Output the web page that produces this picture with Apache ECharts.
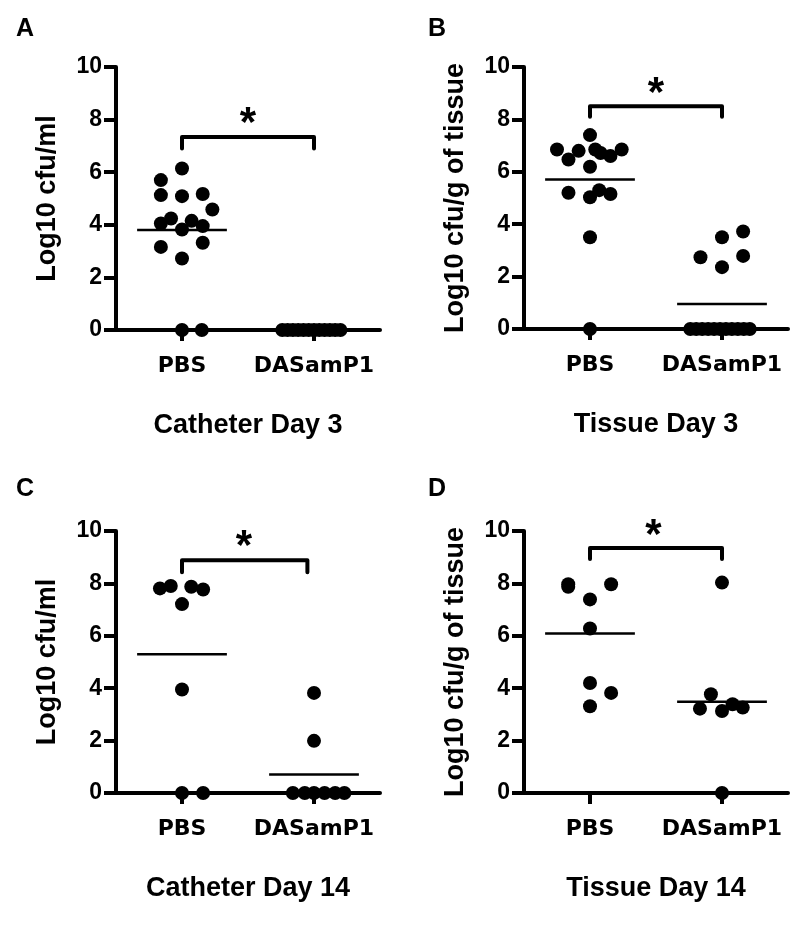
<!DOCTYPE html>
<html>
<head>
<meta charset="utf-8">
<script src="https://cdn.jsdelivr.net/npm/echarts@6/dist/echarts.min.js"></script>
<style>html,body{margin:0;padding:0;background:#fff;}#c{width:800px;height:926px;}</style>
</head>
<body>
<div id="c"></div>
<script>
// ---------- data ----------
const categories = ['PBS', 'DASamP1'];
const panelLetters = ['A', 'B', 'C', 'D'];
const panelTitles = ['Catheter Day 3', 'Tissue Day 3', 'Catheter Day 14', 'Tissue Day 14'];
const yTitles = ['Log10 cfu/ml', 'Log10 cfu/g of tissue', 'Log10 cfu/ml', 'Log10 cfu/g of tissue'];

// Panel A (Catheter Day 3)
const aPbsVal = [6.14, 5.70, 5.13, 5.09, 5.17, 4.58, 4.05, 4.24, 4.15, 3.95, 3.82, 3.16, 3.32, 2.72, 0, 0];
const aPbsDx  = [0, -0.16, -0.16, 0, 0.157, 0.23, -0.16, -0.083, 0.073, 0.157, 0, -0.16, 0.157, 0, 0, 0.15];
const aDasVal = [0, 0, 0, 0, 0, 0, 0, 0, 0, 0, 0, 0];
const aDasDx  = [-0.24, -0.2, -0.16, -0.12, -0.08, -0.04, 0, 0.04, 0.08, 0.12, 0.16, 0.2];
const aMeans  = [3.80, 0];
const aBracket = [1, 2, 7.34, 6.9];
const aStar = [1.5, 8.12];

// Panel B (Tissue Day 3)
const bPbsVal = [7.40, 6.85, 6.47, 6.80, 6.85, 6.72, 6.60, 6.85, 6.19, 5.20, 5.03, 5.30, 5.15, 3.50, 0];
const bPbsDx  = [0, -0.25, -0.163, -0.086, 0.04, 0.08, 0.155, 0.24, 0, -0.163, 0, 0.07, 0.155, 0, 0];
const bDasVal = [2.74, 3.50, 3.72, 2.36, 2.79, 0, 0, 0, 0, 0, 0, 0, 0, 0, 0, 0];
const bDasDx  = [-0.163, 0, 0.16, 0, 0.16, -0.24, -0.195, -0.15, -0.105, -0.06, -0.015, 0.03, 0.075, 0.12, 0.165, 0.21];
const bMeans  = [5.71, 0.95];
const bBracket = [1, 2, 8.5, 8.1];
const bStar = [1.5, 9.27];

// Panel C (Catheter Day 14)
const cPbsVal = [7.81, 7.90, 7.87, 7.77, 7.21, 3.95, 0, 0];
const cPbsDx  = [-0.167, -0.085, 0.07, 0.16, 0, 0, 0, 0.16];
const cDasVal = [3.82, 1.99, 0, 0, 0, 0, 0, 0];
const cDasDx  = [0, 0, -0.16, -0.07, 0, 0.08, 0.16, 0.23];
const cMeans  = [5.30, 0.71];
const cBracket = [1, 1.95, 8.88, 8.43];
const cStar = [1.47, 9.67];

// Panel D (Tissue Day 14)
const dPbsVal = [7.97, 7.87, 7.97, 7.39, 6.28, 4.20, 3.82, 3.31];
const dPbsDx  = [-0.165, -0.165, 0.16, 0, 0, 0, 0.16, 0];
const dDasVal = [8.03, 3.77, 3.22, 3.13, 3.39, 3.26, 0];
const dDasDx  = [0, -0.084, -0.167, 0, 0.08, 0.157, 0];
const dMeans  = [6.09, 3.48];
const dBracket = [1, 2, 9.35, 8.93];
const dStar = [1.48, 10.1];

// ---------- layout / style ----------
const grids = [
  {left: 116, top: 67, width: 264, height: 263},
  {left: 524, top: 67, width: 264, height: 262},
  {left: 116, top: 531, width: 264, height: 262},
  {left: 524, top: 531, width: 264, height: 262}
];
const letterPos = [[11, 12], [423, 12], [11, 472], [423, 472]];
const ARIAL = 'Liberation Sans, Arial, sans-serif';
const DEJA = 'DejaVu Sans, sans-serif';
const BLACK = '#000';
const MEAN_HALF = 0.34;

const panels = [
  [aPbsVal, aPbsDx, aDasVal, aDasDx, aMeans, aBracket, aStar],
  [bPbsVal, bPbsDx, bDasVal, bDasDx, bMeans, bBracket, bStar],
  [cPbsVal, cPbsDx, cDasVal, cDasDx, cMeans, cBracket, cStar],
  [dPbsVal, dPbsDx, dDasVal, dDasDx, dMeans, dBracket, dStar]
];

const xAxes = [], yAxes = [], series = [], titles = [];
panels.forEach((p, i) => {
  const [pv, pdx, dv, ddx, means, br, star] = p;
  xAxes.push({
    gridIndex: i, type: 'value', min: 0.5, max: 2.5,
    splitLine: {show: false},
    axisLine: {show: true, onZero: false, lineStyle: {color: BLACK, width: 4}},
    axisTick: {show: true, customValues: [1, 2], length: 11, lineStyle: {color: BLACK, width: 4}},
    axisLabel: {show: true, customValues: [1, 2], margin: 25, color: BLACK,
      fontFamily: DEJA, fontWeight: 'bold', fontSize: 22,
      formatter: v => categories[Math.round(v) - 1]},
    name: panelTitles[i], nameLocation: 'middle', nameGap: 82,
    nameTextStyle: {color: BLACK, fontFamily: ARIAL, fontWeight: 'bold', fontSize: 27}
  });
  yAxes.push({
    gridIndex: i, type: 'value', min: 0, max: 10, interval: 2,
    splitLine: {show: false},
    axisLine: {show: true, lineStyle: {color: BLACK, width: 4}},
    axisTick: {show: true, length: 12, lineStyle: {color: BLACK, width: 4}},
    axisLabel: {margin: 14, color: BLACK, fontFamily: ARIAL, fontWeight: 'bold', fontSize: 23},
    name: yTitles[i], nameLocation: 'middle', nameGap: 55,
    nameTextStyle: {color: BLACK, fontFamily: ARIAL, fontWeight: 'bold', fontSize: 27}
  });
  const pts = pv.map((v, k) => [1 + pdx[k], v]).concat(dv.map((v, k) => [2 + ddx[k], v]));
  series.push({
    type: 'scatter', xAxisIndex: i, yAxisIndex: i, data: pts,
    symbol: 'circle', symbolSize: 14, itemStyle: {color: BLACK, opacity: 1}, clip: false, z: 5
  });
  means.forEach((m, g) => {
    series.push({
      type: 'line', xAxisIndex: i, yAxisIndex: i, symbol: 'none', z: 4,
      data: [[g + 1 - MEAN_HALF, m], [g + 1 + MEAN_HALF, m]],
      lineStyle: {color: BLACK, width: 2.5}
    });
  });
  series.push({
    type: 'line', xAxisIndex: i, yAxisIndex: i, symbol: 'none', z: 4, clip: false,
    data: [[br[0], br[3]], [br[0], br[2]], [br[1], br[2]], [br[1], br[3]]],
    lineStyle: {color: BLACK, width: 4, cap: 'round', join: 'round'}
  });
  series.push({
    type: 'scatter', xAxisIndex: i, yAxisIndex: i, data: [star], clip: false,
    symbolSize: 1, itemStyle: {color: 'rgba(0,0,0,0)', opacity: 1}, z: 6,
    label: {show: true, position: 'inside', formatter: '*', color: BLACK, opacity: 1,
      fontFamily: ARIAL, fontWeight: 'bold', fontSize: 42, offset: [0, 8]}
  });
  titles.push({
    text: panelLetters[i], left: letterPos[i][0], top: letterPos[i][1],
    textStyle: {color: BLACK, fontFamily: ARIAL, fontWeight: 'bold', fontSize: 25}
  });
});

const chart = echarts.init(document.getElementById('c'), null, {renderer: 'canvas'});
chart.setOption({
  animation: false,
  backgroundColor: '#fff',
  title: titles,
  grid: grids,
  xAxis: xAxes,
  yAxis: yAxes,
  series: series
});
</script>
</body>
</html>
